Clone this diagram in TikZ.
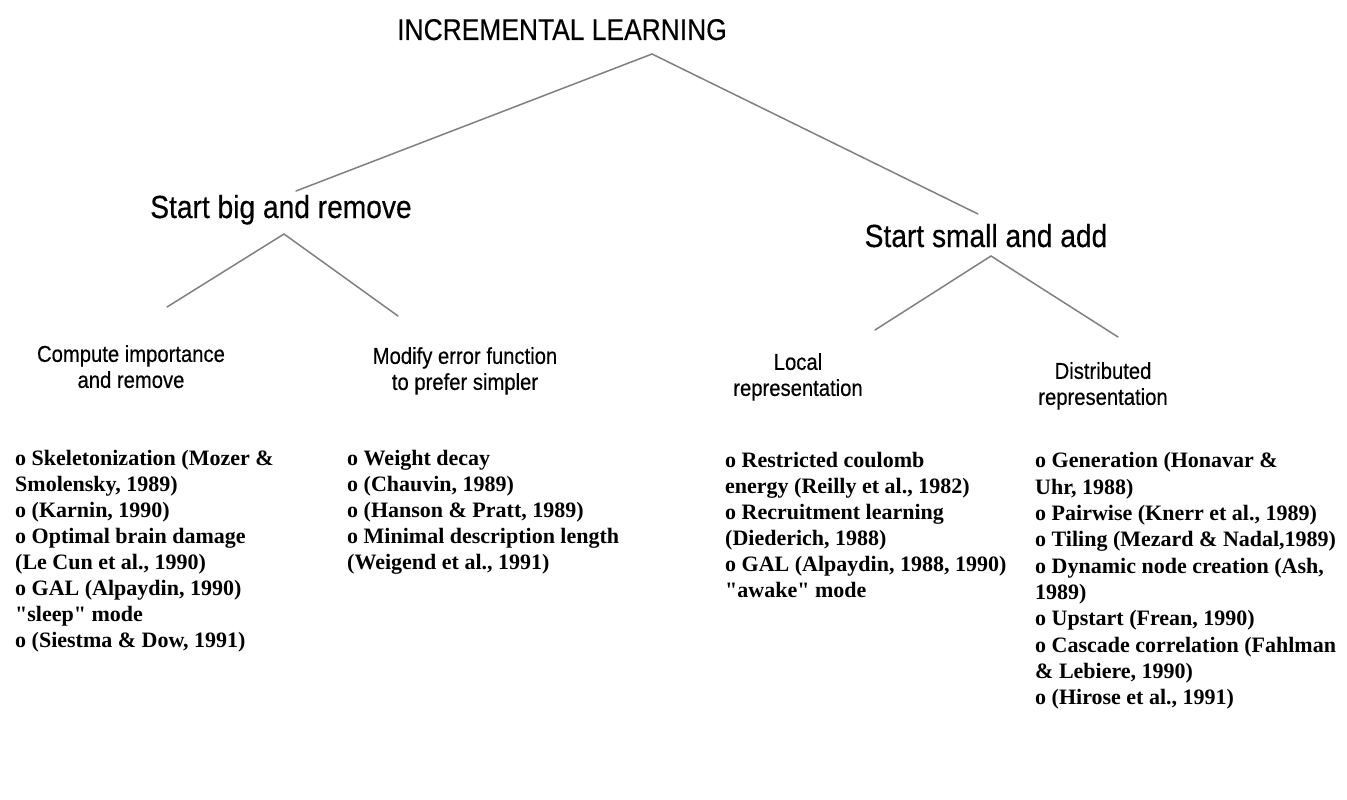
\documentclass[tikz,border=0pt]{standalone}
\usepackage{fontspec}
\setmainfont{Liberation Serif}
\newfontfamily\hsans[FakeStretch=0.88,FakeBold=0.4]{Liberation Sans}
\tikzset{
  branch/.style={draw=black!50, line width=1.5bp, line cap=round},
  ttl/.style={inner sep=0, anchor=base, font=\hsans\fontsize{30bp}{34bp}\selectfont},
  lvltwo/.style={inner sep=0, anchor=base, font=\hsans\fontsize{32bp}{36bp}\selectfont},
  head/.style={inner sep=0, anchor=north, align=center, font=\hsans\fontsize{23bp}{26bp}\selectfont},
  items/.style={inner sep=0, anchor=north west, align=left, font=\bfseries\fontsize{22bp}{26bp}\selectfont},
}
\begin{document}
\begin{tikzpicture}[x=1bp,y=-1bp]
\useasboundingbox (0,0) rectangle (1347,799);
\fill[white] (0,0) rectangle (1347,799);

% titles
\node[ttl] (root) at (562,40) {INCREMENTAL LEARNING};
\node[lvltwo] (big) at (281,218) {Start big and remove};
\node[lvltwo] (small) at (986,247) {Start small and add};

% third level headings
\node[head] (comp) at (131,345) {Compute importance\\and remove};
\node[head] (modf) at (465,347) {Modify error function\\to prefer simpler};
\node[head] (local) at (798,353) {Local\\representation};
\node[head] (dist) at (1103,362) {Distributed\\representation};

% junction coordinates
\coordinate (rootJ) at (652,54);
\coordinate (bigT) at (296,191);
\coordinate (smallT) at (978,214);
\coordinate (bigJ) at (284,234);
\coordinate (compT) at (167,307);
\coordinate (modfT) at (398,316);
\coordinate (smallJ) at (991,256);
\coordinate (localT) at (875,330);
\coordinate (distT) at (1118,337);

\draw[branch] (bigT) -- (rootJ) -- (smallT);
\draw[branch] (compT) -- (bigJ) -- (modfT);
\draw[branch] (localT) -- (smallJ) -- (distT);

% lists
\node[items] (compL) at (15,450) {o Skeletonization (Mozer \&\\Smolensky, 1989)\\o (Karnin, 1990)\\o Optimal brain damage\\(Le Cun et al., 1990)\\o GAL (Alpaydin, 1990)\\\textquotedbl sleep\textquotedbl{} mode\\o (Siestma \& Dow, 1991)};
\node[items] (modfL) at (347,450) {o Weight decay\\o (Chauvin, 1989)\\o (Hanson \& Pratt, 1989)\\o Minimal description length\\(Weigend et al., 1991)};
\node[items] (localL) at (725,452) {o Restricted coulomb\\energy (Reilly et al., 1982)\\o Recruitment learning\\(Diederich, 1988)\\o GAL (Alpaydin, 1988, 1990)\\\textquotedbl awake\textquotedbl{} mode};
\node[items, font=\bfseries\fontsize{22bp}{26.3bp}\selectfont] (distL) at (1035,452.5) {o Generation (Honavar \&\\Uhr, 1988)\\o Pairwise (Knerr et al., 1989)\\o Tiling (Mezard \& Nadal,1989)\\o Dynamic node creation (Ash,\\1989)\\o Upstart (Frean, 1990)\\o Cascade correlation (Fahlman\\\& Lebiere, 1990)\\o (Hirose et al., 1991)};
\end{tikzpicture}
\end{document}
